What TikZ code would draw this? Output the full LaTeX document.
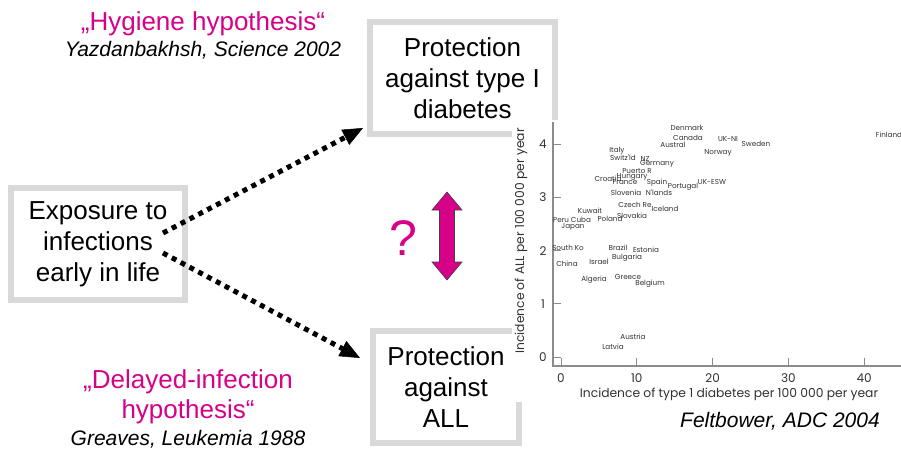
\documentclass[tikz,border=0pt]{standalone}
\usepackage{fontspec}
\setmainfont{Liberation Sans}
\newfontfamily\plotfont{Poppins}
\usetikzlibrary{arrows.meta}

\definecolor{hyppink}{RGB}{214,0,137}
\definecolor{framegray}{RGB}{217,217,217}
\definecolor{axisgray}{RGB}{140,140,140}
\definecolor{plotink}{RGB}{50,50,50}

\tikzset{
  frame/.style={draw=framegray, line width=6pt, align=center, inner sep=0pt,
    minimum height=112pt, font=\fontsize{26}{31}\selectfont},
  dotarrow/.style={line width=5pt, dash pattern=on 5pt off 5pt,
    -{Triangle[length=20pt,width=17pt,line width=0.5pt]}},
  hyptext/.style={text=hyppink, align=center, font=\fontsize{26}{30}\selectfont},
  citation/.style={font=\fontsize{21}{25}\selectfont\itshape},
  country/.style={font=\plotfont\fontsize{7.2}{8}\selectfont, text=plotink, inner sep=0pt},
  ticklabel/.style={font=\plotfont\fontsize{12}{14}\selectfont, text=plotink, inner sep=0pt},
  axistitle/.style={font=\plotfont\fontsize{12.3}{14}\selectfont, text=plotink, inner sep=0pt},
}

\begin{document}
\begin{tikzpicture}[x=1pt, y=-1pt]

  \useasboundingbox (0,0) rectangle (901,450);

  \def\yzero{357}
  \def\yunit{53.2}
  \def\xzero{561}
  \def\xunit{7.58}

  % Boxes
  \node[frame, minimum width=174pt] (expo) at (98,244) {Exposure to\\infections\\early in life};
  \node[frame, minimum width=185pt] (t1d) at (462.5,78) {Protection\\against type I\\diabetes};
  \node[frame, minimum width=146pt] (all) at (446,387) {Protection\\against\\ALL};

  % Plot panel lies over the boxes
  \fill[white] (512,120) rectangle (901,402);

  % Axes and ticks
  \draw[axisgray, line width=1.2pt] (553,122) -- (553,366) -- (901,366);
  \foreach \v in {0,...,4}{
    \draw[axisgray, line width=1pt] (553,{\yzero-\yunit*\v}) -- (561,{\yzero-\yunit*\v});
    \node[ticklabel] at (543,{\yzero-\yunit*\v}) {\v};
  }
  \foreach \v in {0,10,...,40}{
    \draw[axisgray, line width=1pt] ({\xzero+\xunit*\v},366) -- ({\xzero+\xunit*\v},358);
    \node[ticklabel] at ({\xzero+\xunit*\v},378) {\v};
  }
  \node[axistitle] (xtitle) at (729,394) {Incidence of type 1 diabetes per 100 000 per year};
  \node[axistitle, rotate=90] (ytitle) at (521,241) {Incidence of ALL per 100 000 per year};

  % Country labels
  \foreach \name/\px/\py in {Denmark/687/128, Canada/688/138, Austral/673/145,
      UK-NI/728/139, Norway/718/153, Sweden/756/144, Finland/889/135,
      Italy/617/151, Switz'ld/623/158, NZ/645/159, Germany/657/164,
      Puerto R/637/171, Hungary/632/177, Croatia/608/179, France/625/182,
      Spain/657/183, Portugal/683/187, UK-ESW/712/182, Slovenia/626/193,
      N'lands/659/193, Czech Re/635/205, Iceland/665/209, Kuwait/590/211,
      Slovakia/632/216, Poland/610/219, Peru Cuba/572/220, Japan/573/227,
      South Ko/568/248, China/567/264, Brazil/618/248, Estonia/646/250,
      Bulgaria/627/258, Israel/599/262, Algeria/594/280, Greece/628/277,
      Belgium/650/284, Austria/633/337, Latvia/613/347}{
    \node[country] at (\px,\py) {\name};
  }
  \node[citation, anchor=base] (feltbower) at (780,427) {Feltbower, ADC 2004};

  % Dotted arrows
  \draw[dotarrow] ([xshift=65pt,yshift=11pt]expo.center) -- ([xshift=-4pt,yshift=9pt]t1d.south west);
  \draw[dotarrow] ([xshift=65pt,yshift=-9pt]expo.center) -- ([xshift=-10pt,yshift=29pt]all.west);

  % Question and double arrow
  \node[text=hyppink, font=\fontsize{50}{54}\selectfont] (query) at (403,238) {?};
  \filldraw[fill=hyppink, draw=black!75, line width=0.6pt]
    (447,192) -- (462,210) -- (454.5,210) -- (454.5,262) -- (462,262) -- (447,280)
    -- (432,262) -- (439.5,262) -- (439.5,210) -- (432,210) -- cycle;

  % Hypotheses
  \node[hyptext, anchor=base] (hygiene) at (203,30) {„Hygiene hypothesis“};
  \node[citation, anchor=base] (yazdan) at (203,56) {Yazdanbakhsh, Science 2002};
  \node[hyptext, anchor=base] (delayed) at (188,418) {„Delayed-infection\\hypothesis“};
  \node[citation, anchor=base] (greaves) at (188,445) {Greaves, Leukemia 1988};

\end{tikzpicture}
\end{document}
